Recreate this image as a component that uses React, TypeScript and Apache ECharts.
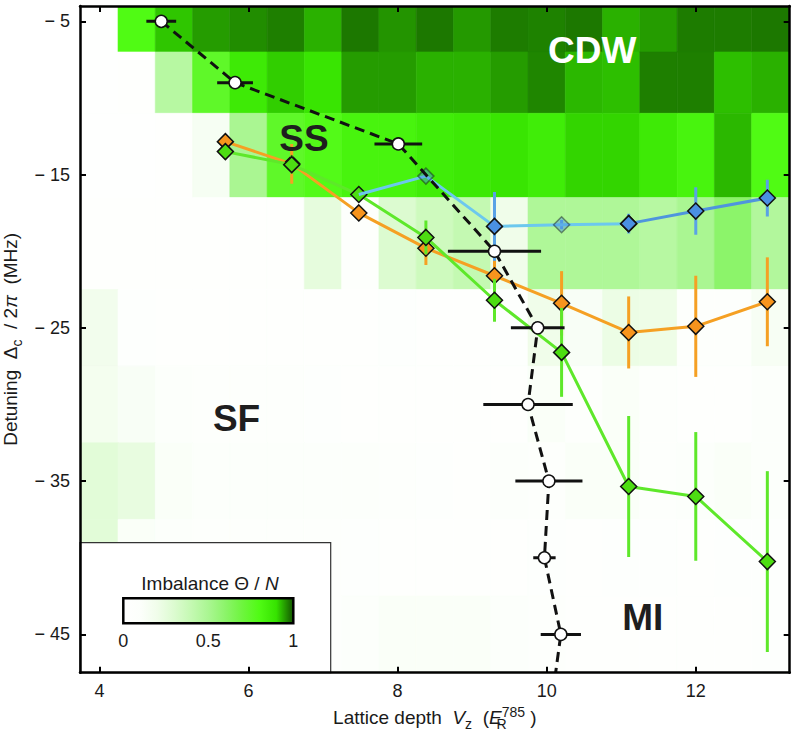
import React, { useEffect, useRef } from "react";
import * as echarts from "echarts";

const FONT = '"Liberation Sans", Arial, Helvetica, sans-serif';

// ---------- heatmap (imbalance) ----------
const cellX = [4, 4.5, 5, 5.5, 6, 6.5, 7, 7.5, 8, 8.5, 9, 9.5, 10, 10.5, 11, 11.5, 12, 12.5, 13];
const cellHalfWidth = 0.25;
const rowTop = [-4, -7, -11, -16.5, -22.5, -27.5, -32.5, -37.5, -42.5];
const rowBottom = [-7, -11, -16.5, -22.5, -27.5, -32.5, -37.5, -42.5, -47.5];

const imbalanceRow1 = [0.02, 0.8, 0.92, 0.95, 0.96, 0.97, 0.935, 0.975, 0.955, 0.975, 0.952, 0.972, 0.968, 0.975, 0.935, 0.95, 0.972, 0.972, 0.975];
const imbalanceRow2 = [0.02, 0.04, 0.45, 0.75, 0.87, 0.915, 0.89, 0.95, 0.95, 0.935, 0.935, 0.95, 0.965, 0.93, 0.925, 0.97, 0.97, 0.925, 0.935];
const imbalanceRow3 = [0.02, 0.03, 0.05, 0.15, 0.5, 0.75, 0.79, 0.83, 0.83, 0.86, 0.875, 0.89, 0.86, 0.91, 0.91, 0.87, 0.83, 0.93, 0.8];
const imbalanceRow4 = [0.04, 0.05, 0.04, 0.05, 0.05, 0.04, 0.25, 0.08, 0.3, 0.36, 0.4, 0.2, 0.48, 0.48, 0.48, 0.45, 0.5, 0.6, 0.47];
const imbalanceRow5 = [0.18, 0.06, 0.05, 0.05, 0.04, 0.04, 0.05, 0.04, 0.06, 0.05, 0.05, 0.06, 0.2, 0.13, 0.22, 0.21, 0.08, 0.08, 0.14];
const imbalanceRow6 = [0.17, 0.13, 0.1, 0.08, 0.08, 0.08, 0.06, 0.05, 0.05, 0.05, 0.04, 0.05, 0.12, 0.08, 0.12, 0.07, 0.05, 0.05, 0.1];
const imbalanceRow7 = [0.27, 0.24, 0.12, 0.1, 0.09, 0.09, 0.09, 0.09, 0.07, 0.06, 0.05, 0.1, 0.08, 0.12, 0.12, 0.08, 0.1, 0.12, 0.1];
const imbalanceRow8 = [0.27, 0.12, 0.1, 0.08, 0.08, 0.08, 0.08, 0.06, 0.05, 0.05, 0.05, 0.05, 0.06, 0.05, 0.06, 0.06, 0.05, 0.06, 0.06];
const imbalanceRow9 = [0.1, 0.1, 0.08, 0.08, 0.08, 0.08, 0.08, 0.1, 0.12, 0.12, 0.12, 0.1, 0.08, 0.05, 0.04, 0.04, 0.04, 0.04, 0.06];
const imbalanceRows = [imbalanceRow1, imbalanceRow2, imbalanceRow3, imbalanceRow4, imbalanceRow5, imbalanceRow6, imbalanceRow7, imbalanceRow8, imbalanceRow9];

const colorScale = ["#ffffff", "#fcfffb", "#f0fdea", "#dcfbd0", "#c4f9b2", "#aaf692", "#8cf46a", "#6ef53e", "#50fb14", "#36e300", "#135400"];
const colorbarTicks = ["0", "0.5", "1"];

// ---------- orange series ----------
const orangeX = [5.69, 6.58, 7.48, 8.38, 9.3, 10.2, 11.1, 12.0, 12.96];
const orangeY = [-12.85, -14.3, -17.5, -19.8, -21.6, -23.4, -25.3, -24.9, -23.3];
const orangeErr = [0.4, 1.3, 0.4, 1.1, 1.2, 2.1, 2.35, 3.3, 2.9];

// ---------- green series ----------
const greenX = [5.69, 6.58, 7.48, 8.38, 9.3, 10.2, 11.1, 12.0, 12.96];
const greenY = [-13.5, -14.35, -16.3, -19.1, -23.2, -26.6, -35.35, -36.0, -40.25];
const greenErr = [0.5, 0.6, 0.4, 1.1, 1.4, 2.9, 4.6, 4.2, 5.9];

// ---------- blue series ----------
const blueX = [7.48, 8.38, 9.3, 10.2, 11.1, 12.0, 12.96];
const blueY = [-16.3, -15.1, -18.38, -18.27, -18.2, -17.38, -16.53];
const blueErr = [0, 0, 2.25, 0.3, 0.65, 1.55, 1.2];
const blueFaded = [true, true, false, true, false, false, false];

// ---------- boundary (black, open circles) ----------
const blackX = [4.83, 5.82, 8.01, 9.3, 9.88, 9.75, 10.03, 9.97, 10.19];
const blackY = [-5, -9, -13, -20, -25, -30, -35, -40, -45];
const blackXErr = [0.2, 0.24, 0.32, 0.625, 0.36, 0.6, 0.45, 0.15, 0.27];
const blackTail = [10.12, -47.5];

// ---------- phase labels ----------
const phaseNames = ["CDW", "SS", "SF", "MI"];
const phaseX = [10.61, 6.745, 5.84, 11.29];
const phaseY = [-6.91, -12.66, -30.94, -43.9];
const phaseColors = ["#ffffff", "#1e1e1e", "#1e1e1e", "#1e1e1e"];

const xTicks = [4, 6, 8, 10, 12];
const yTicks = [-45, -35, -25, -15, -5];

function vErrSeries(xs: number[], ys: number[], es: number[], color: string, z: number) {
  return {
    type: "custom",
    data: xs.map((x, i) => [x, ys[i], es[i]]),
    encode: { x: 0, y: 1 },
    clip: true,
    silent: true,
    z,
    renderItem: (_p: any, api: any) => {
      const x = api.value(0);
      const y = api.value(1);
      const e = api.value(2);
      if (!e) return null;
      const a = api.coord([x, y + e]);
      const b = api.coord([x, y - e]);
      return {
        type: "line",
        shape: { x1: a[0], y1: a[1], x2: b[0], y2: b[1] },
        style: { stroke: color, lineWidth: 3 },
      };
    },
  };
}

function hErrSeries(xs: number[], ys: number[], es: number[], color: string, z: number) {
  return {
    type: "custom",
    data: xs.map((x, i) => [x, ys[i], es[i]]),
    encode: { x: 0, y: 1 },
    clip: true,
    silent: true,
    z,
    renderItem: (_p: any, api: any) => {
      const x = api.value(0);
      const y = api.value(1);
      const e = api.value(2);
      const a = api.coord([x - e, y]);
      const b = api.coord([x + e, y]);
      return {
        type: "line",
        shape: { x1: a[0], y1: a[1], x2: b[0], y2: b[1] },
        style: { stroke: color, lineWidth: 3 },
      };
    },
  };
}

export default function App() {
  const ref = useRef<HTMLDivElement>(null);

  useEffect(() => {
    if (!ref.current) return;
    const chart = echarts.init(ref.current, null, { renderer: "svg" });

    const cells: number[][] = [];
    imbalanceRows.forEach((row, r) => {
      row.forEach((v, c) => cells.push([cellX[c], rowTop[r], rowBottom[r], v]));
    });

    const xMin = 3.74;
    const xMax = 13.26;
    const yMin = -47.5;
    const yMax = -4;

    const axisCommon = {
      type: "value",
      z: 50,
      splitLine: { show: false },
      axisLine: { show: true, onZero: false, lineStyle: { color: "#000", width: 2.5 } },
      axisTick: { show: true, inside: true, length: 6, lineStyle: { color: "#000", width: 2 } },
    };

    const yFmt = (v: number) => (v < 0 ? "\u2212 " + Math.abs(v) : String(v));

    const richName = {
      t: { fontSize: 19, lineHeight: 26, fontFamily: FONT, color: "#1a1a1a" },
      i: { fontSize: 19, lineHeight: 26, fontFamily: FONT, fontStyle: "italic", color: "#1a1a1a" },
      sub: { fontSize: 14, lineHeight: 12, verticalAlign: "bottom", fontFamily: FONT, color: "#1a1a1a" },
      subz: { fontSize: 14, lineHeight: 12, verticalAlign: "bottom", fontFamily: FONT, color: "#1a1a1a", width: 0 },
      sup: { fontSize: 14, lineHeight: 12, verticalAlign: "top", fontFamily: FONT, color: "#1a1a1a" },
    };

    const colorStops = colorScale.map((c, i) => ({ offset: i / (colorScale.length - 1), color: c }));

    const option: any = {
      animation: false,
      backgroundColor: "#fff",
      grid: { left: 80, right: 3.3, top: 6, bottom: 58.3, containLabel: false, outerBoundsMode: "none" },
      visualMap: {
        type: "continuous",
        show: false,
        min: 0,
        max: 1,
        dimension: 3,
        seriesIndex: 0,
        inRange: { color: colorScale },
      },
      xAxis: [
        {
          ...axisCommon,
          position: "bottom",
          min: xMin,
          max: xMax,
          axisTick: { ...axisCommon.axisTick, customValues: xTicks },
          axisLabel: { customValues: xTicks, fontSize: 18, fontFamily: FONT, color: "#1a1a1a", margin: 9 },
          name: "{t|Lattice depth  }{i|V}{sub|z}{t|  (}{i|E}{subz|R}{sup|785}{t| )}",
          nameLocation: "middle",
          nameGap: 29,
          nameTextStyle: { fontSize: 19, fontFamily: FONT, lineHeight: 26, rich: richName },
        },
        {
          ...axisCommon,
          position: "top",
          min: xMin,
          max: xMax,
          axisTick: { ...axisCommon.axisTick, customValues: xTicks },
          axisLabel: { show: false },
        },
      ],
      yAxis: [
        {
          ...axisCommon,
          position: "left",
          min: yMin,
          max: yMax,
          axisTick: { ...axisCommon.axisTick, customValues: yTicks },
          axisLabel: { customValues: yTicks, formatter: yFmt, fontSize: 18, fontFamily: FONT, color: "#1a1a1a", margin: 10 },
          name: "{t|Detuning  \u0394}{sub|c}{t|  / 2}{i|\u03c0}{t|  (MHz)}",
          nameLocation: "middle",
          nameGap: 56,
          nameTextStyle: { fontSize: 19, fontFamily: FONT, lineHeight: 26, rich: richName },
        },
        {
          ...axisCommon,
          position: "right",
          min: yMin,
          max: yMax,
          axisTick: { ...axisCommon.axisTick, customValues: yTicks },
          axisLabel: { show: false },
        },
      ],
      series: [
        {
          type: "custom",
          name: "imbalance",
          data: cells,
          encode: { x: 0, y: [1, 2] },
          clip: true,
          silent: true,
          z: 1,
          renderItem: (_p: any, api: any) => {
            const x = api.value(0);
            const top = api.value(1);
            const bot = api.value(2);
            const p1 = api.coord([x - cellHalfWidth, top]);
            const p2 = api.coord([x + cellHalfWidth, bot]);
            const col = api.visual("color");
            return {
              type: "rect",
              shape: { x: p1[0], y: p1[1], width: p2[0] - p1[0], height: p2[1] - p1[1] },
              style: { fill: col, stroke: col, lineWidth: 0.6 },
            };
          },
        },
        vErrSeries(orangeX, orangeY, orangeErr, "#f5a023", 3),
        {
          type: "line",
          data: orangeX.map((x, i) => [x, orangeY[i]]),
          symbol: "diamond",
          symbolSize: 16,
          lineStyle: { color: "#f5a023", width: 3 },
          itemStyle: { color: "#f7941d", borderColor: "#111", borderWidth: 1.5 },
          z: 4,
          silent: true,
        },
        vErrSeries(greenX, greenY, greenErr, "#5ee82a", 5),
        {
          type: "line",
          data: greenX.map((x, i) => [x, greenY[i]]),
          symbol: "diamond",
          symbolSize: 16,
          lineStyle: { color: "#5ee82a", width: 3 },
          itemStyle: { color: "#4ddd12", borderColor: "#111", borderWidth: 1.5 },
          z: 6,
          silent: true,
        },
        vErrSeries(blueX, blueY, blueErr, "#5aa2e6", 7),
        {
          type: "line",
          data: blueX.slice(0, 5).map((x, i) => ({
            value: [x, blueY[i]],
            symbolSize: i === 0 ? 0 : 16,
            itemStyle: { opacity: blueFaded[i] ? 0.45 : 1 },
          })),
          symbol: "diamond",
          lineStyle: { color: "#6cc8ee", width: 3 },
          itemStyle: { color: "#4a90e2", borderColor: "#111", borderWidth: 1.5 },
          z: 8,
          silent: true,
        },
        {
          type: "line",
          data: blueX.slice(4).map((x, i) => [x, blueY[i + 4]]),
          symbol: "diamond",
          symbolSize: 16,
          lineStyle: { color: "#4f95dd", width: 3 },
          itemStyle: { color: "#4a90e2", borderColor: "#111", borderWidth: 1.5 },
          z: 8,
          silent: true,
        },
        hErrSeries(blackX, blackY, blackXErr, "#111", 9),
        {
          type: "line",
          data: [
            ...blackX.map((x, i) => [x, blackY[i]]),
            { value: blackTail, symbol: "none", symbolSize: 0 },
          ],
          symbol: "circle",
          symbolSize: 12,
          lineStyle: { color: "#111", width: 3, type: [10, 6] },
          itemStyle: { color: "#ffffff", borderColor: "#111", borderWidth: 1.5 },
          z: 10,
          silent: true,
        },
        {
          type: "custom",
          data: phaseNames.map((_n, i) => [phaseX[i], phaseY[i], i]),
          encode: { x: 0, y: 1 },
          silent: true,
          z: 12,
          renderItem: (_p: any, api: any) => {
            const i = api.value(2);
            const c = api.coord([api.value(0), api.value(1)]);
            return {
              type: "text",
              x: c[0],
              y: c[1],
              style: {
                text: phaseNames[i],
                fill: phaseColors[i],
                fontSize: 37,
                fontWeight: "bold",
                fontFamily: FONT,
                align: "center",
                verticalAlign: "middle",
              },
            };
          },
        },
      ],
      graphic: [
        {
          type: "group",
          z: 40,
          children: [
            {
              type: "rect",
              z: 40,
              shape: { x: 80, y: 542.7, width: 250.7, height: 130 },
              style: { fill: "#ffffff", stroke: "#333", lineWidth: 1.2 },
            },
            {
              type: "text",
              z: 41,
              style: {
                x: 210,
                y: 583,
                text: "{a|Imbalance \u0398 / }{b|N}",
                align: "center",
                verticalAlign: "middle",
                rich: {
                  a: { fontSize: 19, fontFamily: FONT, fill: "#1a1a1a" },
                  b: { fontSize: 19, fontFamily: FONT, fontStyle: "italic", fill: "#1a1a1a" },
                },
              },
            },
            {
              type: "rect",
              z: 41,
              shape: { x: 123.3, y: 598.3, width: 170, height: 25 },
              style: {
                fill: { type: "linear", x: 0, y: 0, x2: 1, y2: 0, colorStops },
                stroke: "#000",
                lineWidth: 2.5,
              },
            },
            ...colorbarTicks.map((t) => ({
              type: "text",
              z: 41,
              style: {
                x: 123.3 + 170 * Number(t),
                y: 641,
                text: t,
                align: "center",
                verticalAlign: "middle",
                fontSize: 18,
                fontFamily: FONT,
                fill: "#1a1a1a",
              },
            })),
          ],
        },
      ],
    };

    chart.setOption(option);
    return () => chart.dispose();
  }, []);

  return <div ref={ref} style={{ position: "absolute", left: 0, top: 0, width: 793, height: 731 }} />;
}
